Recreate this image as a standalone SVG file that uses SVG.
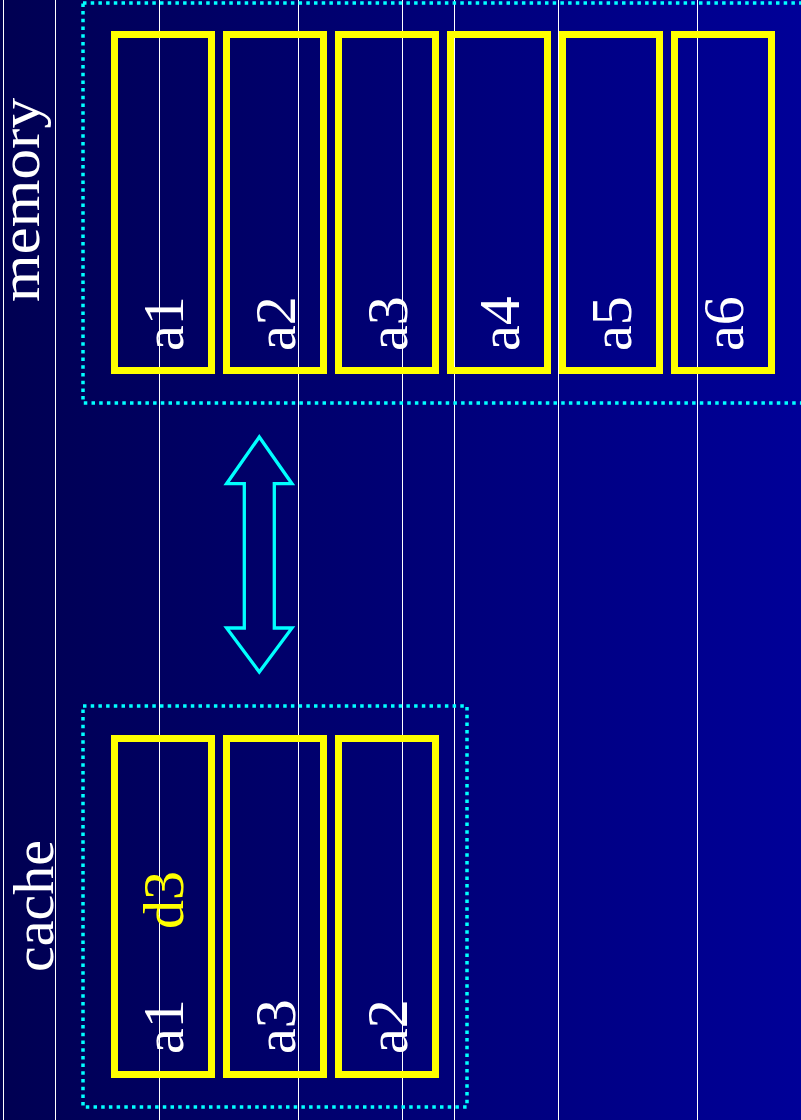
<svg xmlns="http://www.w3.org/2000/svg" width="801" height="1120" viewBox="0 0 801 1120">
<defs>
<linearGradient id="bg" x1="0" y1="0" x2="1" y2="0">
<stop offset="0" stop-color="#000052"/>
<stop offset="1" stop-color="#000098"/>
</linearGradient>
<style>
.grid{stroke:#ffffff;stroke-width:1}
.frame{fill:none;stroke:#00ffff;stroke-width:3.5;stroke-dasharray:3.5 4.2}
.cell{fill:none;stroke:#ffff00;stroke-width:7}
.lbl{font-family:"Liberation Serif","Times New Roman",serif;font-size:58px;fill:#ffffff}
.hl{fill:#ffff00}
.arrow{fill:none;stroke:#00ffff;stroke-width:3.3;stroke-linejoin:miter}
</style>
</defs>
<rect width="801" height="1120" fill="url(#bg)"/>
<g id="grid">
<line class="grid" x1="3.5" y1="0" x2="3.5" y2="1120"/>
<line class="grid" x1="55.5" y1="0" x2="55.5" y2="1120"/>
<line class="grid" x1="159.5" y1="0" x2="159.5" y2="1120"/>
<line class="grid" x1="298.5" y1="0" x2="298.5" y2="1120"/>
<line class="grid" x1="402.5" y1="0" x2="402.5" y2="1120"/>
<line class="grid" x1="454.5" y1="0" x2="454.5" y2="1120"/>
<line class="grid" x1="558.5" y1="0" x2="558.5" y2="1120"/>
<line class="grid" x1="697.5" y1="0" x2="697.5" y2="1120"/>
</g>
<g id="memory">
<rect class="frame" x="83" y="3" width="730" height="400"/>
<text class="lbl" x="39" y="302" transform="rotate(-90 39 302)" textLength="204" lengthAdjust="spacingAndGlyphs">memory</text>
</g>
<g id="mem-a1"><rect class="cell" x="114.5" y="34.5" width="97" height="336"/><text class="lbl" x="183" y="351" transform="rotate(-90 183 351)">a1</text></g>
<g id="mem-a2"><rect class="cell" x="226.5" y="34.5" width="97" height="336"/><text class="lbl" x="295" y="351" transform="rotate(-90 295 351)">a2</text></g>
<g id="mem-a3"><rect class="cell" x="338.5" y="34.5" width="97" height="336"/><text class="lbl" x="407" y="351" transform="rotate(-90 407 351)">a3</text></g>
<g id="mem-a4"><rect class="cell" x="450.5" y="34.5" width="97" height="336"/><text class="lbl" x="519" y="351" transform="rotate(-90 519 351)">a4</text></g>
<g id="mem-a5"><rect class="cell" x="562.5" y="34.5" width="97" height="336"/><text class="lbl" x="631" y="351" transform="rotate(-90 631 351)">a5</text></g>
<g id="mem-a6"><rect class="cell" x="674.5" y="34.5" width="97" height="336"/><text class="lbl" x="743" y="351" transform="rotate(-90 743 351)">a6</text></g>
<g id="cache">
<rect class="frame" x="83" y="706" width="384" height="401"/>
<text class="lbl" x="53" y="972" transform="rotate(-90 53 972)">cache</text>
</g>
<g id="cache-a1"><rect class="cell" x="114.5" y="738.5" width="97" height="336"/><text class="lbl" x="183" y="1054" transform="rotate(-90 183 1054)">a1</text><text class="lbl hl" x="183" y="929" transform="rotate(-90 183 929)">d3</text></g>
<g id="cache-a3"><rect class="cell" x="226.5" y="738.5" width="97" height="336"/><text class="lbl" x="295" y="1054" transform="rotate(-90 295 1054)">a3</text></g>
<g id="cache-a2"><rect class="cell" x="338.5" y="738.5" width="97" height="336"/><text class="lbl" x="407" y="1054" transform="rotate(-90 407 1054)">a2</text></g>
<g id="connectors">
<polygon class="arrow" points="259.3,437 292,483.7 274.3,483.7 274.3,628 292,628 259.3,672 226.6,628 244.3,628 244.3,483.7 226.6,483.7"/>
</g>
</svg>
